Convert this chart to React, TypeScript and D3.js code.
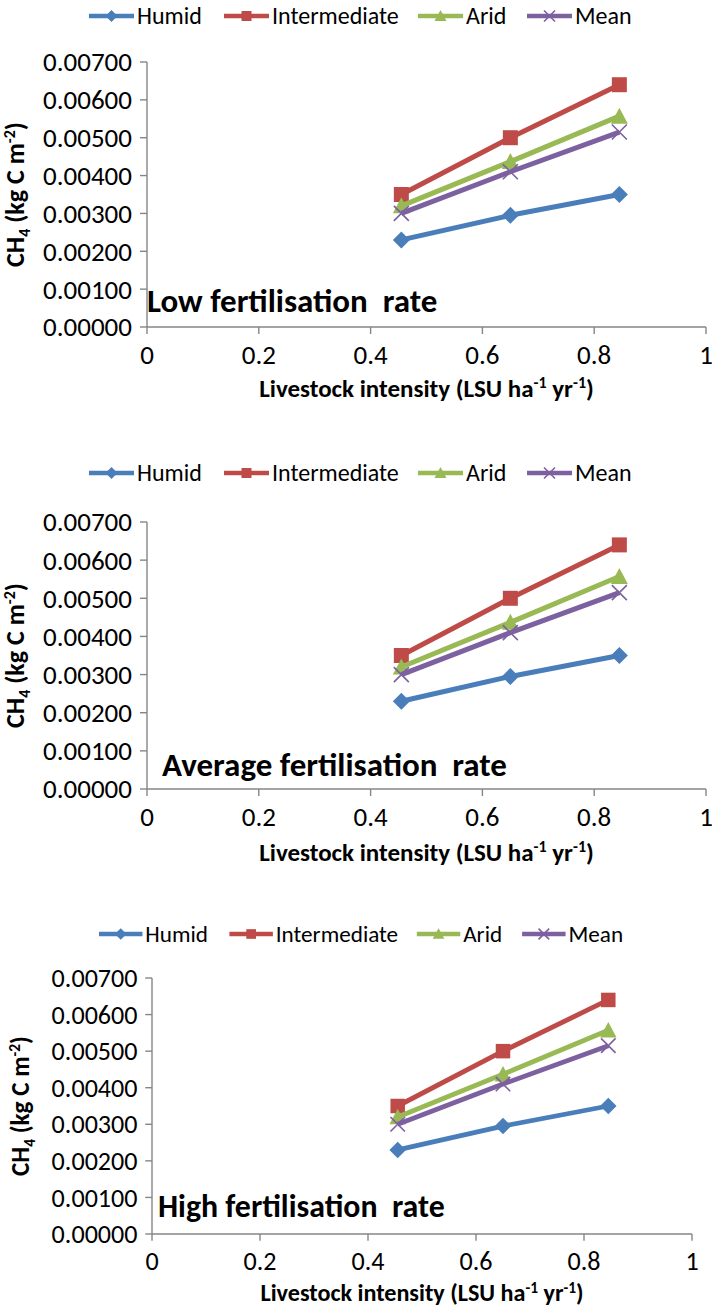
import React from "react";
import * as d3 from "d3";

// livestock intensity (LSU ha-1 yr-1)
const xValues = [0.455, 0.65, 0.845];

// CH4 (kg C m-2) — same values in all three panels
const humid = [0.0023, 0.00295, 0.0035];
const intermediate = [0.0035, 0.005, 0.0064];
const arid = [0.0032, 0.00437, 0.00557];
const mean = [0.003, 0.0041, 0.00515];

const seriesNames = ["Humid", "Intermediate", "Arid", "Mean"];
const seriesValues = [humid, intermediate, arid, mean];
const seriesColors = ["#4A7EBB", "#BE4B48", "#98B954", "#7D60A0"];
const seriesMarkers = ["diamond", "square", "triangle", "x"];

const panelLabels = ["Low fertilisation  rate", "Average fertilisation  rate", "High fertilisation  rate"];

const yTicks = [0, 0.001, 0.002, 0.003, 0.004, 0.005, 0.006, 0.007];
const xTicks = [0, 0.2, 0.4, 0.6, 0.8, 1];

// layout of each panel (pixels); k scales fonts and markers
const panels = [
  { k: 1, legendY: 16, legendX: 89, top: 62, bottom: 327, left: 147, right: 706, annX: 147, annY: 300, titleY: 388, yTitleX: 15 },
  { k: 1, legendY: 473, legendX: 89, top: 522, bottom: 789, left: 147, right: 706, annX: 162, annY: 764, titleY: 852, yTitleX: 15 },
  { k: 0.966, legendY: 934, legendX: 99, top: 978, bottom: 1234, left: 152, right: 692, annX: 158, annY: 1206, titleY: 1293, yTitleX: 20 },
];
const legendOffsets = [0, 135, 329, 438];

const FONT = "Carlito, 'Liberation Sans Narrow', 'Liberation Sans', Arial, sans-serif";
const AXIS = "#868686";

function Marker({ type, x, y, color, size }) {
  const s = size / 2;
  if (type === "diamond") {
    return <path d={`M${x},${y - s - 1}L${x + s + 1},${y}L${x},${y + s + 1}L${x - s - 1},${y}Z`} fill={color} />;
  }
  if (type === "square") {
    return <rect x={x - s} y={y - s} width={size} height={size} fill={color} />;
  }
  if (type === "triangle") {
    return <path d={`M${x},${y - s - 1}L${x + s + 1},${y + s}L${x - s - 1},${y + s}Z`} fill={color} />;
  }
  return (
    <path d={`M${x - s},${y - s}L${x + s},${y + s}M${x - s},${y + s}L${x + s},${y - s}`} stroke={color} strokeWidth={1.6} fill="none" />
  );
}

function Panel({ p, label }) {
  const k = p.k;
  const x = d3.scaleLinear([0, 1], [p.left, p.right]);
  const y = d3.scaleLinear([0, 0.007], [p.bottom, p.top]);
  const line = d3.line<number>((_, i) => x(xValues[i]), (d) => y(d));
  const midY = (p.top + p.bottom) / 2;
  const midX = (p.left + p.right) / 2;
  const sub = 16 * k;

  return (
    <g fontFamily={FONT}>
      {/* legend */}
      {seriesNames.map((name, i) => {
        const lx = p.legendX + legendOffsets[i] * k;
        return (
          <g key={name}>
            <line x1={lx} x2={lx + 45 * k} y1={p.legendY} y2={p.legendY} stroke={seriesColors[i]} strokeWidth={4.5 * k} />
            <Marker type={seriesMarkers[i]} x={lx + 22.5 * k} y={p.legendY} color={seriesColors[i]} size={(i === 3 ? 11 : 10) * k} />
            <text x={lx + 48 * k} y={p.legendY} dy="0.35em" fontSize={24 * k} fill="#000">{name}</text>
          </g>
        );
      })}

      {/* axes */}
      <line x1={p.left} x2={p.left} y1={p.top} y2={p.bottom} stroke={AXIS} strokeWidth={1.4} />
      <line x1={p.left} x2={p.right} y1={p.bottom} y2={p.bottom} stroke={AXIS} strokeWidth={1.4} />
      {yTicks.map((t) => (
        <g key={t}>
          <line x1={p.left - 7 * k} x2={p.left} y1={y(t)} y2={y(t)} stroke={AXIS} strokeWidth={1.4} />
          <text x={p.left - 15 * k} y={y(t)} dy="0.35em" textAnchor="end" fontSize={27 * k}>{d3.format(".5f")(t)}</text>
        </g>
      ))}
      {xTicks.map((t) => (
        <g key={t}>
          <line x1={x(t)} x2={x(t)} y1={p.bottom} y2={p.bottom + 7 * k} stroke={AXIS} strokeWidth={1.4} />
          <text x={x(t)} y={p.bottom + 28 * k} dy="0.35em" textAnchor="middle" fontSize={27 * k}>{String(t)}</text>
        </g>
      ))}

      {/* axis titles */}
      <text transform={`translate(${p.yTitleX},${midY}) rotate(-90)`} textAnchor="middle" fontSize={26 * k} fontWeight="bold" dy="0.35em">
        CH<tspan fontSize={sub} dy={6 * k}>4</tspan><tspan dy={-6 * k}> (kg C m</tspan><tspan fontSize={sub} dy={-9 * k}>-2</tspan><tspan dy={9 * k}>)</tspan>
      </text>
      <text x={midX} y={p.titleY} dy="0.35em" textAnchor="middle" fontSize={25 * k} fontWeight="bold">
        Livestock intensity (LSU ha<tspan fontSize={sub} dy={-9 * k}>-1</tspan><tspan dy={9 * k}> yr</tspan><tspan fontSize={sub} dy={-9 * k}>-1</tspan><tspan dy={9 * k}>)</tspan>
      </text>

      {/* panel label */}
      <text x={p.annX} y={p.annY} dy="0.35em" fontSize={33 * k} fontWeight="bold" style={{ whiteSpace: "pre" }}>{label}</text>

      {/* series */}
      {seriesValues.map((vals, i) => (
        <g key={seriesNames[i]}>
          <path d={line(vals) || ""} fill="none" stroke={seriesColors[i]} strokeWidth={5 * k} strokeLinejoin="round" />
          {vals.map((v, j) => (
            <Marker key={j} type={seriesMarkers[i]} x={x(xValues[j])} y={y(v)} color={seriesColors[i]} size={15 * k} />
          ))}
        </g>
      ))}
    </g>
  );
}

export default function App() {
  return (
    <svg width={712} height={1315} style={{ position: "absolute", left: 0, top: 0, background: "#fff" }}>
      {panels.map((p, i) => (
        <Panel key={i} p={p} label={panelLabels[i]} />
      ))}
    </svg>
  );
}
